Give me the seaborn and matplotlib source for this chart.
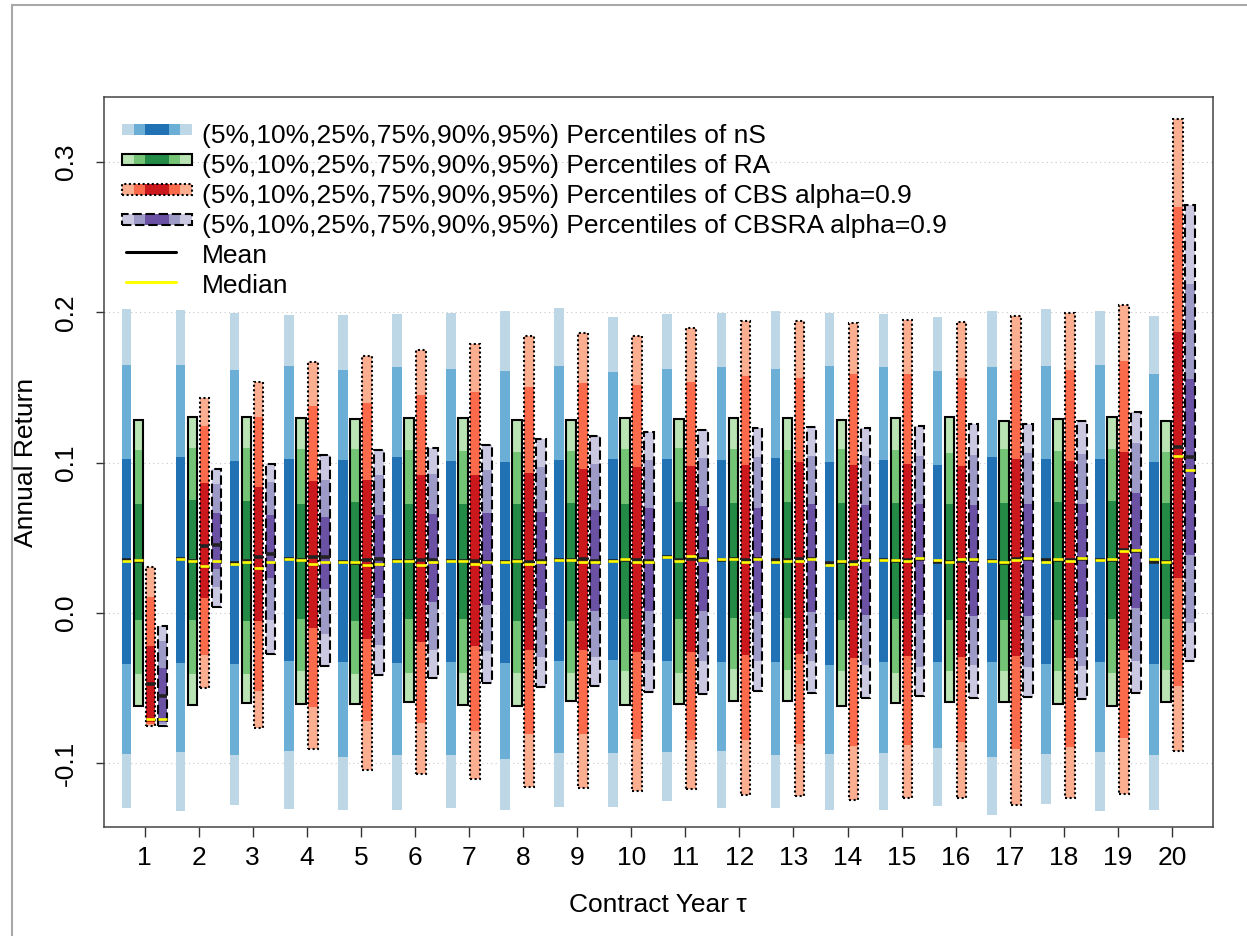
import matplotlib
matplotlib.use("Agg")
import matplotlib.pyplot as plt
import seaborn as sns
import numpy as np
from matplotlib.legend_handler import HandlerBase
from matplotlib.patches import Rectangle
from matplotlib.lines import Line2D

# ---------------- data ----------------
years = list(range(1, 21))

# nS
ns_p95 = [0.202, 0.2016, 0.1993, 0.198, 0.1984, 0.1989, 0.1993, 0.2005, 0.2029, 0.1966,
          0.1989, 0.1993, 0.2005, 0.1993, 0.1989, 0.1966, 0.2005, 0.2022, 0.2011, 0.1977]
ns_p90 = [0.165, 0.165, 0.1617, 0.164, 0.1617, 0.1633, 0.162, 0.161, 0.164, 0.160,
          0.162, 0.1633, 0.1622, 0.164, 0.1635, 0.1606, 0.1633, 0.1644, 0.1646, 0.1588]
ns_p75 = [0.1025, 0.1038, 0.1009, 0.102, 0.1014, 0.1036, 0.1011, 0.1002, 0.1014, 0.102,
          0.102, 0.1014, 0.1032, 0.1005, 0.1014, 0.0986, 0.1036, 0.102, 0.1025, 0.1002]
ns_mean = [0.035, 0.036, 0.0331, 0.0356, 0.034, 0.0345, 0.0347, 0.0338, 0.0354, 0.0345,
           0.0368, 0.0349, 0.0349, 0.0329, 0.0349, 0.034, 0.0345, 0.0351, 0.0349, 0.034]
ns_median = [0.0345, 0.036, 0.0325, 0.036, 0.034, 0.0345, 0.0345, 0.0338, 0.0354, 0.0345,
             0.0372, 0.0356, 0.0338, 0.0318, 0.0349, 0.0351, 0.0345, 0.0338, 0.0349, 0.0356]
ns_p25 = [-0.034, -0.0336, -0.0338, -0.0324, -0.0331, -0.0336, -0.0327, -0.0336, -0.0324, -0.0315,
          -0.032, -0.0331, -0.0331, -0.0347, -0.0327, -0.0331, -0.0327, -0.0338, -0.0327, -0.0342]
ns_p10 = [-0.094, -0.0928, -0.095, -0.092, -0.0957, -0.0946, -0.0944, -0.0973, -0.0932, -0.0932,
          -0.0928, -0.092, -0.095, -0.0939, -0.0935, -0.0899, -0.0962, -0.0939, -0.0928, -0.0944]
ns_p5 = [-0.130, -0.132, -0.128, -0.1306, -0.131, -0.1315, -0.130, -0.1315, -0.1295, -0.1295,
         -0.1254, -0.130, -0.130, -0.131, -0.131, -0.1284, -0.1345, -0.127, -0.1318, -0.131]

# RA
ra_p95 = [0.128, 0.1306, 0.130, 0.1295, 0.1288, 0.1297, 0.1295, 0.1282, 0.1282, 0.1295,
          0.129, 0.1295, 0.1297, 0.1286, 0.1295, 0.130, 0.1277, 0.129, 0.130, 0.1273]
ra_p90 = [0.108, 0.1097, 0.1095, 0.1088, 0.1088, 0.108, 0.1074, 0.1072, 0.1074, 0.1088,
          0.1095, 0.1088, 0.108, 0.1088, 0.108, 0.1065, 0.1088, 0.1077, 0.1088, 0.1072]
ra_p75 = [0.0727, 0.075, 0.0743, 0.0727, 0.0734, 0.0727, 0.0723, 0.0727, 0.0732, 0.0727,
          0.0739, 0.0732, 0.0734, 0.0732, 0.0732, 0.0721, 0.0732, 0.0734, 0.0743, 0.0732]
ra_mean = [0.0345, 0.0345, 0.0345, 0.0351, 0.0331, 0.0345, 0.0345, 0.0345, 0.0349, 0.0349,
           0.0349, 0.0356, 0.0349, 0.034, 0.0345, 0.034, 0.0333, 0.0349, 0.0349, 0.034]
ra_median = [0.0351, 0.0345, 0.0335, 0.0351, 0.0335, 0.0345, 0.0345, 0.0345, 0.0349, 0.0356,
             0.0345, 0.036, 0.0345, 0.0345, 0.0349, 0.034, 0.0338, 0.0356, 0.036, 0.034]
ra_p25 = [-0.0045, -0.005, -0.0054, -0.004, -0.0054, -0.0043, -0.0043, -0.0056, -0.0056, -0.0043,
          -0.004, -0.0034, -0.0032, -0.005, -0.0043, -0.005, -0.005, -0.005, -0.0043, -0.0043]
ra_p10 = [-0.0405, -0.041, -0.0405, -0.039, -0.0405, -0.040, -0.040, -0.040, -0.040, -0.039,
          -0.040, -0.0376, -0.038, -0.039, -0.040, -0.0387, -0.039, -0.039, -0.040, -0.038]
ra_p5 = [-0.062, -0.0617, -0.060, -0.0606, -0.061, -0.0597, -0.0615, -0.062, -0.059, -0.0613,
         -0.0606, -0.059, -0.059, -0.062, -0.060, -0.0597, -0.0597, -0.0606, -0.062, -0.0597]

# CBS alpha=0.9
cbs_p95 = [0.0304, 0.143, 0.1538, 0.1669, 0.1712, 0.1752, 0.179, 0.1842, 0.1865, 0.1842,
           0.1892, 0.1939, 0.1939, 0.1928, 0.195, 0.1932, 0.1977, 0.1993, 0.2047, 0.3283]
cbs_p90 = [0.0106, 0.124, 0.1306, 0.1374, 0.1399, 0.1448, 0.1466, 0.150, 0.1527, 0.1516,
           0.1538, 0.1579, 0.1565, 0.1588, 0.1588, 0.1565, 0.1613, 0.1617, 0.1673, 0.2702]
cbs_p75 = [-0.0218, 0.0863, 0.0838, 0.0878, 0.0883, 0.0917, 0.0917, 0.093, 0.0959, 0.0968,
           0.098, 0.0982, 0.1005, 0.0982, 0.0991, 0.0975, 0.102, 0.1009, 0.1072, 0.1869]
cbs_mean = [-0.0475, 0.0446, 0.0374, 0.0372, 0.0351, 0.0351, 0.0345, 0.034, 0.0356, 0.0349,
            0.036, 0.0351, 0.0356, 0.034, 0.0349, 0.0345, 0.0356, 0.0349, 0.0417, 0.1101]
cbs_median = [-0.071, 0.0309, 0.0297, 0.0324, 0.0315, 0.0318, 0.0327, 0.0327, 0.034, 0.0338,
              0.0378, 0.0338, 0.0345, 0.0322, 0.0345, 0.0356, 0.0349, 0.0345, 0.0408, 0.1045]
cbs_p25 = [-0.073, 0.0097, -0.0056, -0.0101, -0.0178, -0.0196, -0.0218, -0.0245, -0.0245, -0.0259,
           -0.0264, -0.0282, -0.0275, -0.0302, -0.0286, -0.0297, -0.029, -0.0304, -0.0245, 0.0232]
cbs_p10 = [-0.074, -0.028, -0.0523, -0.063, -0.0718, -0.0736, -0.0786, -0.0804, -0.0804, -0.0838,
           -0.0849, -0.0849, -0.0872, -0.089, -0.0883, -0.086, -0.0905, -0.0894, -0.0831, -0.0488]
cbs_p5 = [-0.0755, -0.050, -0.0764, -0.0905, -0.1045, -0.1074, -0.1108, -0.1158, -0.1169, -0.1187,
          -0.1171, -0.121, -0.122, -0.1243, -0.1232, -0.1232, -0.1282, -0.1236, -0.1205, -0.092]

# CBSRA alpha=0.9
cbsra_p95 = [-0.009, 0.096, 0.0989, 0.1047, 0.1081, 0.1099, 0.1115, 0.1155, 0.1178, 0.1205,
             0.1216, 0.1227, 0.1234, 0.123, 0.1241, 0.1257, 0.1257, 0.1273, 0.1336, 0.2717]
cbsra_p90 = [-0.019, 0.0854, 0.0867, 0.0885, 0.0919, 0.0926, 0.0948, 0.0968, 0.099, 0.1014,
             0.1027, 0.1036, 0.1043, 0.1043, 0.1043, 0.1047, 0.1065, 0.1054, 0.1133, 0.2188]
cbsra_p75 = [-0.0365, 0.0667, 0.0649, 0.0637, 0.0653, 0.066, 0.0664, 0.0673, 0.0687, 0.0694,
             0.0709, 0.070, 0.0721, 0.0716, 0.0721, 0.0716, 0.0721, 0.0727, 0.0795, 0.1557]
cbsra_mean = [-0.0556, 0.0453, 0.0394, 0.0374, 0.0356, 0.0351, 0.034, 0.0345, 0.0345, 0.0345,
              0.0356, 0.0356, 0.0356, 0.0351, 0.036, 0.0349, 0.036, 0.036, 0.0412, 0.1036]
cbsra_median = [-0.071, 0.0345, 0.0338, 0.0338, 0.0324, 0.0338, 0.0338, 0.034, 0.034, 0.034,
                0.0349, 0.0356, 0.0356, 0.0349, 0.0363, 0.0356, 0.0363, 0.0363, 0.0419, 0.0952]
cbsra_p25 = [-0.073, 0.0293, 0.0232, 0.016, 0.0101, 0.0074, 0.0052, 0.0025, 0.0014, 0.0014,
             0.0011, 0.0007, 0.0007, -0.0016, -0.0016, -0.002, -0.002, -0.0027, 0.0029, 0.0387]
cbsra_p10 = [-0.074, 0.0169, -0.005, -0.0144, -0.0212, -0.0248, -0.0257, -0.0293, -0.0297, -0.0315,
             -0.032, -0.0324, -0.0324, -0.0347, -0.0358, -0.0349, -0.036, -0.0354, -0.0324, -0.0071]
cbsra_p5 = [-0.0755, 0.0036, -0.0277, -0.0354, -0.0414, -0.0432, -0.047, -0.0495, -0.0489, -0.0529,
            -0.054, -0.0523, -0.0534, -0.0568, -0.0556, -0.0568, -0.0563, -0.0574, -0.0534, -0.0324]

labels = ["(5%,10%,25%,75%,90%,95%) Percentiles of nS",
          "(5%,10%,25%,75%,90%,95%) Percentiles of RA",
          "(5%,10%,25%,75%,90%,95%) Percentiles of CBS alpha=0.9",
          "(5%,10%,25%,75%,90%,95%) Percentiles of CBSRA alpha=0.9"]
yticks = [-0.1, 0.0, 0.1, 0.2, 0.3]

# ---------------- style ----------------
sns.set_theme(style="white")
plt.rcParams['font.family'] = ['Liberation Sans', 'DejaVu Sans']
plt.rcParams['text.color'] = 'black'
plt.rcParams['axes.labelcolor'] = 'black'
plt.rcParams['xtick.color'] = '#333333'
plt.rcParams['ytick.color'] = '#333333'

W, H = 1247, 936
fig = plt.figure(figsize=(W / 100, H / 100), dpi=100)
L, R, T, B = 103.5, 1213, 97, 827
ax = fig.add_axes([L / W, 1 - B / H, (R - L) / W, (B - T) / H])

series = [
    dict(p=(ns_p5, ns_p10, ns_p25, ns_p75, ns_p90, ns_p95), mean=ns_mean, med=ns_median,
         cols=("#BDD7E7", "#6BAED6", "#2171B5"), off=-0.333, ls=None),
    dict(p=(ra_p5, ra_p10, ra_p25, ra_p75, ra_p90, ra_p95), mean=ra_mean, med=ra_median,
         cols=("#BAE4B3", "#74C476", "#238B45"), off=-0.111, ls="-"),
    dict(p=(cbs_p5, cbs_p10, cbs_p25, cbs_p75, cbs_p90, cbs_p95), mean=cbs_mean, med=cbs_median,
         cols=("#FCAE91", "#FB6A4A", "#CB181D"), off=0.111, ls=(0, (1.0, 1.2))),
    dict(p=(cbsra_p5, cbsra_p10, cbsra_p25, cbsra_p75, cbsra_p90, cbsra_p95), mean=cbsra_mean,
         med=cbsra_median, cols=("#CBC9E2", "#9E9AC8", "#6A51A3"), off=0.333, ls=(0, (4.5, 1.8))),
]

bw = 0.178
x = np.array(years, dtype=float)
for s in series:
    p5, p10, p25, p75, p90, p95 = [np.array(v) for v in s["p"]]
    light, mid, dark = s["cols"]
    xs = x + s["off"]
    segs = [(p5, p10, light), (p10, p25, mid), (p25, p75, dark), (p75, p90, mid), (p90, p95, light)]
    for lo, hi, c in segs:
        ax.bar(xs, hi - lo, bottom=lo, width=bw, color=c, edgecolor="none", linewidth=0, zorder=2)
    if s["ls"] is not None:
        ax.bar(xs, p95 - p5, bottom=p5, width=bw, fill=False, edgecolor="black",
               linewidth=1.5, linestyle=s["ls"], zorder=3)
    ax.hlines(s["mean"], xs - bw / 2, xs + bw / 2, colors="#222222", linewidth=2.6, zorder=4)
    ax.hlines(s["med"], xs - bw / 2, xs + bw / 2, colors="#FFFF00", linewidth=1.9, zorder=5)

# axes
ax.set_xlim(1 - 41 / 54.05, 20 + 41 / 54.05)
ax.set_ylim(-0.1 - (B - 763) / 1502.5, 0.3 + (162 - T) / 1502.5)
ax.set_xticks(years)
ax.set_xticklabels([str(v) for v in years])
ax.set_yticks(yticks)
ax.set_yticklabels(["-0.1", "0.0", "0.1", "0.2", "0.3"], rotation=90, va="center", ha="right")
ax.yaxis.grid(True, linestyle=(0, (1, 3)), color="#c8c8c8", linewidth=0.8, zorder=0)
ax.xaxis.grid(False)
ax.set_axisbelow(True)
for sp in ax.spines.values():
    sp.set_color("#444444")
    sp.set_linewidth(1.1)
ax.tick_params(axis="x", direction="out", length=7, width=1.0, color="#333333", pad=7,
               labelsize=19, labelcolor="black", bottom=True)
ax.tick_params(axis="y", direction="out", length=5.8, width=1.0, color="#333333", pad=12.5,
               labelsize=19, labelcolor="black", left=True)
ax.set_xlabel("Contract Year τ", fontsize=19, color="black")
ax.set_ylabel("Annual Return", fontsize=19, color="black")
ax.xaxis.set_label_coords(0.5, (B - 893) / (B - T))
ax.yaxis.set_label_coords((38 - L) / (R - L), 0.5)


# legend
class PctHandler(HandlerBase):
    def __init__(self, cols, ls):
        super().__init__()
        self.cols = cols
        self.ls = ls

    def create_artists(self, legend, orig_handle, xdescent, ydescent, width, height, fontsize, trans):
        h = 8.0
        yc = height / 2 - ydescent + 3.0
        x0 = -xdescent
        light, mid, dark = self.cols
        arts = []
        xx = x0
        for f, c in zip([1 / 6, 1 / 6, 1 / 3, 1 / 6, 1 / 6], [light, mid, dark, mid, light]):
            arts.append(Rectangle((xx, yc - h / 2), width * f, h, facecolor=c, edgecolor="none",
                                  transform=trans))
            xx += width * f
        if self.ls is not None:
            arts.append(Rectangle((x0, yc - h / 2), width, h, fill=False, edgecolor="black",
                                  linewidth=1.5, linestyle=self.ls, transform=trans))
        return arts


class LineHandler(HandlerBase):
    def __init__(self, color):
        super().__init__()
        self.color = color

    def create_artists(self, legend, orig_handle, xdescent, ydescent, width, height, fontsize, trans):
        yc = height / 2 - ydescent + 1.5
        x0 = -xdescent
        ln = Line2D([x0 + 3, x0 + 39], [yc, yc], color=self.color, linewidth=2.2, transform=trans)
        return [ln]


proxies = [Rectangle((0, 0), 1, 1) for _ in range(4)] + [Line2D([], []), Line2D([], [])]
hmap = {proxies[i]: PctHandler(series[i]["cols"], series[i]["ls"]) for i in range(4)}
hmap[proxies[4]] = LineHandler("black")
hmap[proxies[5]] = LineHandler("#FFFF00")
leg = ax.legend(proxies, labels + ["Mean", "Median"], handler_map=hmap, loc="upper left",
                bbox_to_anchor=((122 - L) / (R - L), (B - 124) / (B - T)), frameon=False,
                fontsize=19, handlelength=2.65, handleheight=0.7, handletextpad=0.37,
                labelspacing=0.23, borderpad=0, borderaxespad=0)
for t in leg.get_texts():
    t.set_color("black")

# outer page frame
fig.add_artist(Line2D([11.5 / W, 11.5 / W], [0, 1 - 4.5 / H], transform=fig.transFigure,
                      color="#a8a8a8", linewidth=1.5))
fig.add_artist(Line2D([11.5 / W, 1], [1 - 4.5 / H, 1 - 4.5 / H], transform=fig.transFigure,
                      color="#a8a8a8", linewidth=1.5))

fig.savefig("out.png", dpi=100, facecolor="white")
